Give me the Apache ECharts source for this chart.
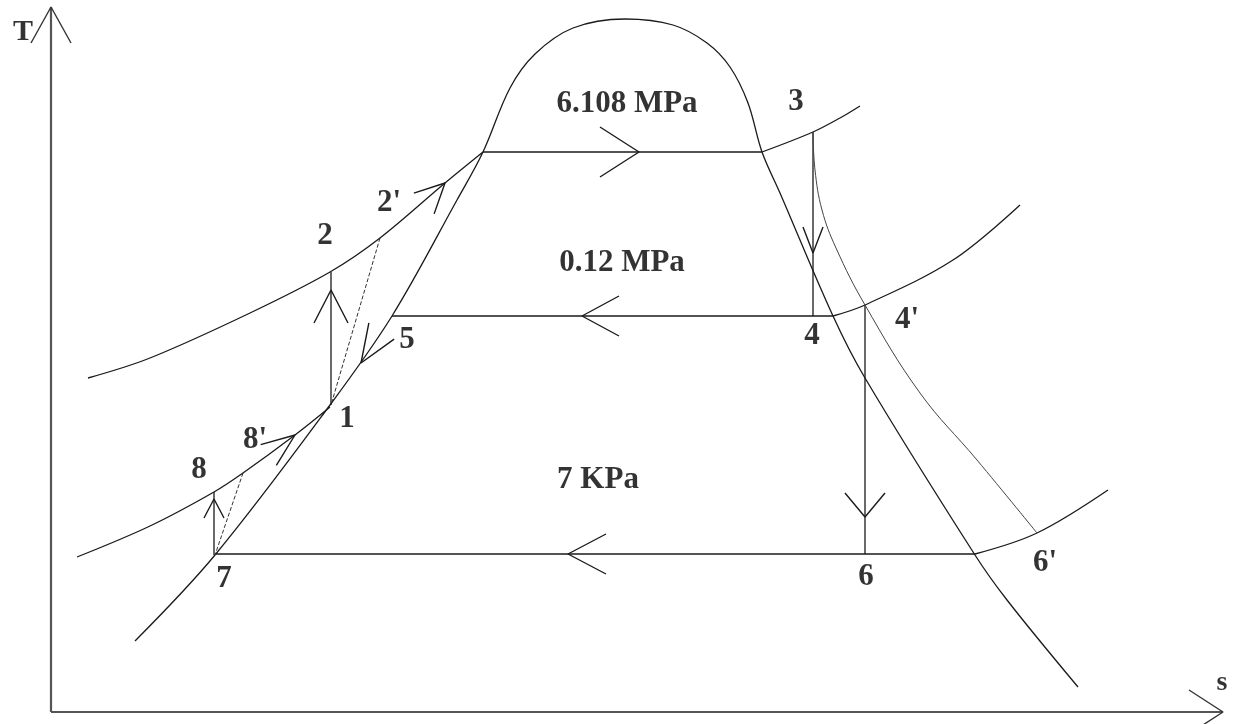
<!DOCTYPE html>
<html>
<head>
<meta charset="utf-8">
<title>T-s diagram</title>
<script src="https://cdn.jsdelivr.net/npm/echarts@6/dist/echarts.min.js"></script>
<style>
  html, body { margin: 0; padding: 0; background: #fff; }
  #tsChart { width: 1238px; height: 724px; }
</style>
</head>
<body>
<div id="tsChart"></div>
<script>
// all points are [s, T] in drawing units (T axis runs downward on screen, so yAxis is inverted)

// axes of the diagram
const tAxisLine = [[51, 712], [51, 7]];
const sAxisLine = [[51, 712], [1223, 712]];

// saturation dome: liquid side from lower left, over the top, vapour side down to lower right
const satDome = [[135, 641], [215, 555], [330, 405], [392, 316], [457, 200], [483, 152], [510, 88], [535, 54],
  [573, 28], [625, 19], [673, 25], [707, 43], [730, 67], [748, 103], [762, 152], [780, 193], [833, 316],
  [865, 378], [975, 555], [1007, 600], [1078, 687]];

// isobars
const liquid6108 = [[88, 378], [150, 358], [250, 313], [330, 272], [380, 238], [445, 183], [483, 152]];
const boil6108 = [[483, 152], [762, 152]];
const superheat6108 = [[762, 152], [813, 132], [840, 118], [860, 106]];

const liquid012 = [[77, 557], [150, 526], [214, 492], [243, 473], [295, 435], [330, 407]];
const boil012 = [[392, 316], [833, 316]];
const superheat012 = [[833, 316], [865, 305], [953, 260], [1020, 205]];

const cond7 = [[215, 554], [975, 554]];
const superheat7 = [[975, 554], [1037, 533], [1108, 490]];

// processes
const pump12 = [[331, 405], [331, 272]];
const pump78 = [[214, 555], [214, 492]];
const turbine34 = [[813, 132], [813, 316]];
const turbine4p6 = [[865, 305], [865, 554]];
const realTurbine = [[813, 132], [815, 170], [822, 210], [836, 248], [865, 305], [920, 393], [977, 460], [1037, 533]];
const realPump12 = [[380, 238], [331, 405]];
const realPump78 = [[243, 473], [215, 555]];

// arrow heads: tip s, tip T, base s, base T, half width
const arrows = [
  [51, 7, 51, 43, 20],
  [1223, 712, 1189, 712, 22],
  [639, 152, 600, 152, 25],
  [582, 316, 619, 316, 20],
  [568, 554, 606, 554, 20],
  [331, 290, 331, 323, 17],
  [214, 499, 214, 518, 10],
  [813, 253, 813, 227, 10],
  [865, 517, 865, 493, 20],
  [445, 183, 424, 203.5, 14.5],
  [295, 435, 268.5, 455, 13],
  [361, 363, 381.5, 331, 15]
];

// labels
const labelNames = ['T', 's', '6.108 MPa', '0.12 MPa', '7 KPa', '3', '2', "2'", '5', '1', "8'", '8', '7', '4', "4'", '6', "6'"];
const labelPos = [[23, 32], [1222, 683], [627, 104], [622, 263], [598, 480], [796, 102], [325, 236], [389, 203],
  [407, 340], [347, 419], [255, 440], [199, 470], [224, 579], [812, 336], [907, 320], [866, 577], [1045, 563]];
const labelSizes = [30, 28, 31, 31, 31, 31, 31, 31, 31, 31, 31, 31, 31, 31, 31, 31, 31];

function arrowHead(a) {
  const [tx, ty, bx, by, half] = a;
  const dx = tx - bx, dy = ty - by;
  const len = Math.hypot(dx, dy);
  const px = -dy / len * half, py = dx / len * half;
  return [[bx + px, by + py], [tx, ty], [bx - px, by - py]];
}

function lineSeries(name, data, opts) {
  opts = opts || {};
  return {
    name: name,
    type: 'line',
    data: data,
    symbol: 'none',
    smooth: opts.smooth || false,
    silent: true,
    lineStyle: {
      color: opts.color || '#1a1a1a',
      width: opts.width || 1.3,
      type: opts.type || 'solid'
    },
    z: opts.z || 2
  };
}

const chart = echarts.init(document.getElementById('tsChart'));

const series = [
  lineSeries('T axis', tAxisLine, { color: '#555', width: 2.2 }),
  lineSeries('s axis', sAxisLine, { color: '#555', width: 2.2 }),
  lineSeries('dome', satDome, { smooth: 0.35 }),
  lineSeries('6.108 liquid', liquid6108, { smooth: 0.35 }),
  lineSeries('6.108 boil', boil6108),
  lineSeries('6.108 superheat', superheat6108, { smooth: 0.35 }),
  lineSeries('0.12 liquid', liquid012, { smooth: 0.35 }),
  lineSeries('0.12 boil', boil012),
  lineSeries('0.12 superheat', superheat012, { smooth: 0.35 }),
  lineSeries('7 kPa', cond7),
  lineSeries('7 kPa superheat', superheat7, { smooth: 0.35 }),
  lineSeries('pump 1-2', pump12),
  lineSeries('pump 7-8', pump78),
  lineSeries('turbine 3-4', turbine34),
  lineSeries('turbine 4-6', turbine4p6),
  lineSeries('real turbine', realTurbine, { smooth: 0.4, color: '#444', width: 1 }),
  lineSeries('real pump 1-2', realPump12, { color: '#333', width: 1, type: [4, 2] }),
  lineSeries('real pump 7-8', realPump78, { color: '#333', width: 1, type: [4, 2] })
];

arrows.forEach(function (a, i) {
  series.push(lineSeries('arrow ' + i, arrowHead(a), { color: i < 2 ? '#333' : '#1a1a1a', width: 1.4, z: 3 }));
});

series.push({
  name: 'labels',
  type: 'scatter',
  silent: true,
  symbolSize: 1,
  itemStyle: { color: 'rgba(0,0,0,0)' },
  data: labelNames.map(function (n, i) {
    return {
      name: n,
      value: labelPos[i],
      label: { fontSize: labelSizes[i] }
    };
  }),
  label: {
    show: true,
    position: 'inside',
    formatter: '{b}',
    color: '#000',
    fontFamily: 'Liberation Serif',
    fontWeight: 'bold'
  },
  z: 5
});

chart.setOption({
  animation: false,
  backgroundColor: '#fff',
  grid: { left: 0, right: 0, top: 0, bottom: 0 },
  xAxis: { type: 'value', min: 0, max: 1238, show: false },
  yAxis: { type: 'value', min: 0, max: 724, inverse: true, show: false },
  series: series
});
</script>
</body>
</html>
